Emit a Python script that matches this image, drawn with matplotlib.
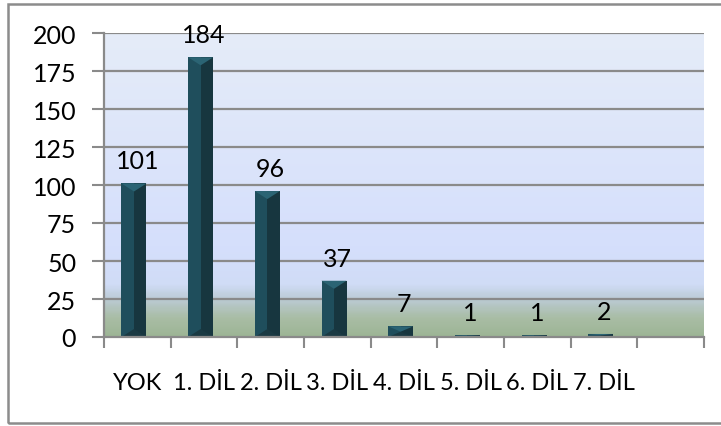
import numpy as np
import matplotlib
matplotlib.use("Agg")
import matplotlib.pyplot as plt
from matplotlib.patches import Polygon, Rectangle
from matplotlib.colors import LinearSegmentedColormap

plt.rcParams["font.family"] = ["Lato", "DejaVu Sans"]

# data
categories = ["YOK", "1. DİL", "2. DİL", "3. DİL", "4. DİL", "5. DİL", "6. DİL", "7. DİL", ""]
values = [101, 184, 96, 37, 7, 1, 1, 2, None]
yticks = [0, 25, 50, 75, 100, 125, 150, 175, 200]

fs = 18

fig = plt.figure(figsize=(7.21, 4.27), dpi=100)
ax = fig.add_axes([104 / 721, 89 / 427, 600 / 721, 304 / 427])

n = len(categories)
ax.set_xlim(-0.5, n - 0.5)
ax.set_ylim(0, 200)

# background gradient (blue on top, greenish near the floor)
grad = LinearSegmentedColormap.from_list(
    "bg",
    [(0.0, "#9db595"), (0.06, "#a9bda5"), (0.125, "#bccbd6"),
     (0.17, "#d0dcf6"), (0.3, "#d5dffc"), (1.0, "#e5ecf8")],
)
ax.imshow(np.linspace(0, 1, 300).reshape(-1, 1), cmap=grad, origin="lower",
          extent=[-0.5, n - 0.5, 0, 200], aspect="auto", zorder=0)

# grid
for t in yticks[1:]:
    ax.axhline(t, color="#8a8a8a", lw=1.6, zorder=1)

# bars with a bevel look
bw = 0.375
off = -0.05
px_per_y = ax.transData.transform((0, 1))[1] - ax.transData.transform((0, 0))[1]
for i, v in enumerate(values):
    if v is None:
        continue
    xl = i + off - bw / 2
    xr = i + off + bw / 2
    xc = i + off
    d = min(8 / px_per_y, v / 2)
    ax.add_patch(Rectangle((xl, 0), bw / 2, v, color="#1f4e5c", lw=0, zorder=3))
    ax.add_patch(Rectangle((xc, 0), bw / 2, v, color="#17363f", lw=0, zorder=3))
    ax.add_patch(Polygon([(xl, v), (xr, v), (xc, v - d)], closed=True,
                         color="#2b6474", lw=0, zorder=4))
    ax.add_patch(Polygon([(xl, 0), (xr, 0), (xc, d)], closed=True,
                         color="#1a3a43", lw=0, zorder=4))
    ax.annotate(str(v), (xc + 0.05, v), xytext=(0, 8), textcoords="offset points",
                ha="center", va="bottom", fontsize=fs, color="black")

# axes styling
ax.set_yticks(yticks)
ax.set_xticks(np.arange(-0.5, n, 1.0))
ax.set_xticklabels([])
ax.set_xticks(np.arange(n), minor=True)
ax.set_xticklabels(categories, minor=True)
ax.tick_params(axis="x", which="major", length=8, width=1.5, color="#8a8a8a", direction="out")
ax.tick_params(axis="x", which="minor", length=0, pad=25, labelsize=17)
ax.tick_params(axis="y", length=9, width=1.5, color="#8a8a8a", pad=11, labelsize=fs)

for s in ["top", "right"]:
    ax.spines[s].set_visible(False)
for s in ["left", "bottom"]:
    ax.spines[s].set_color("#8a8a8a")
    ax.spines[s].set_linewidth(1.6)
    ax.spines[s].set_zorder(5)

# outer chart border
fig.patches.append(Rectangle((8 / 721, 3 / 427), 1.2, 419 / 427, transform=fig.transFigure,
                             fill=False, edgecolor="#8c8c8c", lw=1.8))

fig.savefig("out.png", dpi=100)
